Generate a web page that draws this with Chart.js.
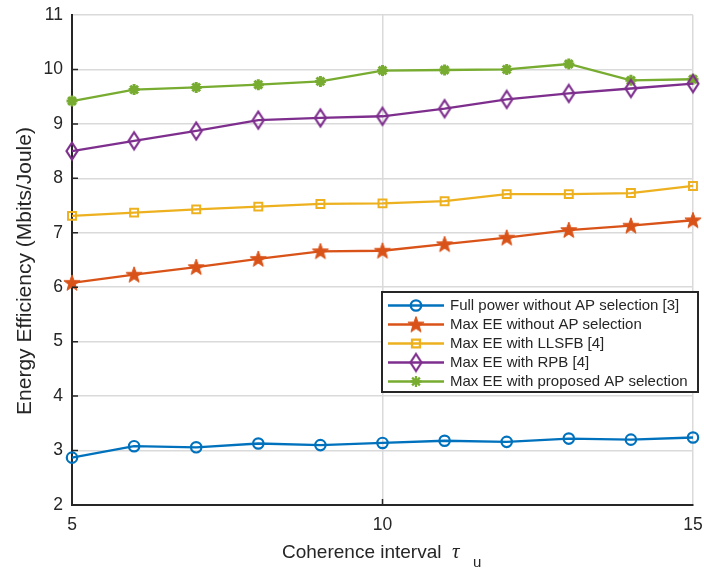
<!DOCTYPE html>
<html>
<head>
<meta charset="utf-8">
<script src="https://cdn.jsdelivr.net/npm/chart.js@4/dist/chart.umd.min.js"></script>
<style>
  html, body { margin: 0; padding: 0; background: #fff; }
  #wrap { width: 704px; height: 568px; }
</style>
</head>
<body>
<div id="wrap"><canvas id="grafico" width="704" height="568"></canvas></div>
<script>
// dados
const tau = [5, 6, 7, 8, 9, 10, 11, 12, 13, 14, 15];
const fullPower = [2.87, 3.08, 3.06, 3.13, 3.10, 3.14, 3.18, 3.16, 3.22, 3.20, 3.24];
const maxEE = [6.08, 6.23, 6.37, 6.52, 6.66, 6.67, 6.79, 6.91, 7.05, 7.13, 7.23];
const maxEELLSFB = [7.31, 7.37, 7.43, 7.48, 7.53, 7.54, 7.58, 7.71, 7.71, 7.73, 7.86];
const maxEERPB = [8.50, 8.69, 8.87, 9.07, 9.11, 9.14, 9.28, 9.45, 9.56, 9.65, 9.74];
const maxEEProposed = [9.42, 9.63, 9.67, 9.72, 9.78, 9.98, 9.99, 10.00, 10.10, 9.80, 9.82];
const legendas = [
    'Full power without AP selection [3]',
    'Max EE without AP selection',
    'Max EE with LLSFB [4]',
    'Max EE with RPB [4]',
    'Max EE with proposed AP selection'
];
const xTicks = [5, 10, 15];

const fonte = "'Liberation Sans', Arial, sans-serif";
const corTexto = '#262626';

// marcadores desenhados à mão (estrela de 5 pontas e losango)
function criarEstrela(cor) {
    let c = document.createElement('canvas');
    c.width = 20; c.height = 20;
    let g = c.getContext('2d');
    g.beginPath();
    for (let i = 0; i < 10; i++) {
        let r = i % 2 === 0 ? 8.5 : 3.5;
        let a = -Math.PI / 2 + i * Math.PI / 5;
        let px = 10 + r * Math.cos(a), py = 10.5 + r * Math.sin(a);
        if (i === 0) g.moveTo(px, py); else g.lineTo(px, py);
    }
    g.closePath();
    g.fillStyle = cor;
    g.fill();
    g.strokeStyle = cor;
    g.lineWidth = 1;
    g.stroke();
    return c;
}

function criarLosango(cor) {
    let c = document.createElement('canvas');
    c.width = 16; c.height = 22;
    let g = c.getContext('2d');
    g.beginPath();
    g.moveTo(8, 2.5);
    g.lineTo(13.5, 11);
    g.lineTo(8, 19.5);
    g.lineTo(2.5, 11);
    g.closePath();
    g.strokeStyle = cor;
    g.lineWidth = 2.2;
    g.stroke();
    return c;
}

const cores = ['#0072BD', '#D95319', '#EDB120', '#7E2F8E', '#77AC30'];
const estrela = criarEstrela(cores[1]);
const losango = criarLosango(cores[3]);

const estilos = [
    { pointStyle: 'circle', radius: 5.2, borderWidth: 2.2 },
    { pointStyle: estrela, radius: 8, borderWidth: 0 },
    { pointStyle: 'rect', radius: 5.6, borderWidth: 2 },
    { pointStyle: losango, radius: 8, borderWidth: 0 },
    { pointStyle: 'star', radius: 5.5, borderWidth: 3 }
];

const series = [fullPower, maxEE, maxEELLSFB, maxEERPB, maxEEProposed];

const datasets = series.map((valores, i) => ({
    label: legendas[i],
    data: tau.map((t, k) => ({ x: t, y: valores[k] })),
    borderColor: cores[i],
    backgroundColor: 'rgba(0,0,0,0)',
    borderWidth: 2.3,
    pointStyle: estilos[i].pointStyle,
    pointRadius: estilos[i].radius,
    pointHoverRadius: estilos[i].radius,
    pointBorderWidth: estilos[i].borderWidth,
    pointBorderColor: cores[i],
    pointBackgroundColor: 'rgba(0,0,0,0)',
    tension: 0,
    clip: false
}));

// ticks para dentro, legenda e rótulos dos eixos
const extras = {
    id: 'extras',
    afterDraw(chart) {
        const ctx = chart.ctx;
        const xs = chart.scales.x, ys = chart.scales.y;
        const area = chart.chartArea;

        ctx.save();
        ctx.strokeStyle = corTexto;
        ctx.lineWidth = 1.5;
        ctx.beginPath();
        for (let v = 3; v <= 10; v++) {
            let py = ys.getPixelForValue(v);
            ctx.moveTo(area.left, py);
            ctx.lineTo(area.left + 6, py);
        }
        xTicks.slice(1, -1).forEach(v => {
            let px = xs.getPixelForValue(v);
            ctx.moveTo(px, area.bottom);
            ctx.lineTo(px, area.bottom - 6);
        });
        ctx.stroke();

        // legenda
        const bx = 382, by = 292, bw = 316, bh = 100;
        ctx.fillStyle = '#fff';
        ctx.fillRect(bx, by, bw, bh);
        ctx.lineWidth = 2;
        ctx.strokeStyle = corTexto;
        ctx.strokeRect(bx, by, bw, bh);
        ctx.font = '15px ' + fonte;
        ctx.textBaseline = 'middle';
        ctx.textAlign = 'left';
        chart.data.datasets.forEach((ds, i) => {
            let ly = by + 13.5 + i * 19;
            ctx.strokeStyle = ds.borderColor;
            ctx.lineWidth = 2.3;
            ctx.beginPath();
            ctx.moveTo(bx + 6, ly);
            ctx.lineTo(bx + 62, ly);
            ctx.stroke();
            ctx.fillStyle = 'rgba(0,0,0,0)';
            Chart.helpers.drawPoint(ctx, {
                pointStyle: estilos[i].pointStyle,
                radius: estilos[i].radius,
                borderWidth: estilos[i].borderWidth,
                rotation: 0
            }, bx + 34, ly);
            ctx.fillStyle = corTexto;
            ctx.fillText(ds.label, bx + 68, ly + 0.5);
        });

        // título do eixo x com tau subscrito
        ctx.fillStyle = corTexto;
        ctx.textBaseline = 'alphabetic';
        ctx.font = '19px ' + fonte;
        ctx.fillText('Coherence interval', 282, 558);
        ctx.font = "italic 21px 'Liberation Serif', 'DejaVu Serif', serif";
        ctx.fillText('τ', 452, 558);
        ctx.font = '15px ' + fonte;
        ctx.fillText('u', 473, 567);

        // título do eixo y
        ctx.translate(31, 271);
        ctx.rotate(-Math.PI / 2);
        ctx.textAlign = 'center';
        ctx.font = '21px ' + fonte;
        ctx.fillText('Energy Efficiency (Mbits/Joule)', 0, 0);
        ctx.restore();
    }
};

new Chart(document.getElementById('grafico'), {
    type: 'line',
    data: { datasets: datasets },
    options: {
        responsive: false,
        animation: false,
        devicePixelRatio: 1,
        layout: { padding: { top: 15, right: 11, left: 0, bottom: 0 } },
        plugins: {
            legend: { display: false },
            tooltip: { enabled: false }
        },
        scales: {
            x: {
                type: 'linear',
                min: 5,
                max: 15,
                afterBuildTicks: (s) => { s.ticks = xTicks.map(v => ({ value: v })); },
                afterFit: (s) => { s.height = 63; s.paddingLeft = 0; s.paddingRight = 0; },
                ticks: { color: corTexto, font: { family: fonte, size: 17.5 }, padding: 10, maxRotation: 0 },
                grid: { color: '#dadada', lineWidth: 1.5, drawTicks: false },
                border: { color: corTexto, width: 2 }
            },
            y: {
                min: 2,
                max: 11,
                afterFit: (s) => { s.width = 72; s.paddingTop = 0; s.paddingBottom = 0; },
                ticks: { stepSize: 1, color: corTexto, font: { family: fonte, size: 17.5 }, padding: 9 },
                grid: { color: '#dadada', lineWidth: 1.5, drawTicks: false },
                border: { color: corTexto, width: 2 }
            }
        }
    },
    plugins: [extras]
});
</script>
</body>
</html>
